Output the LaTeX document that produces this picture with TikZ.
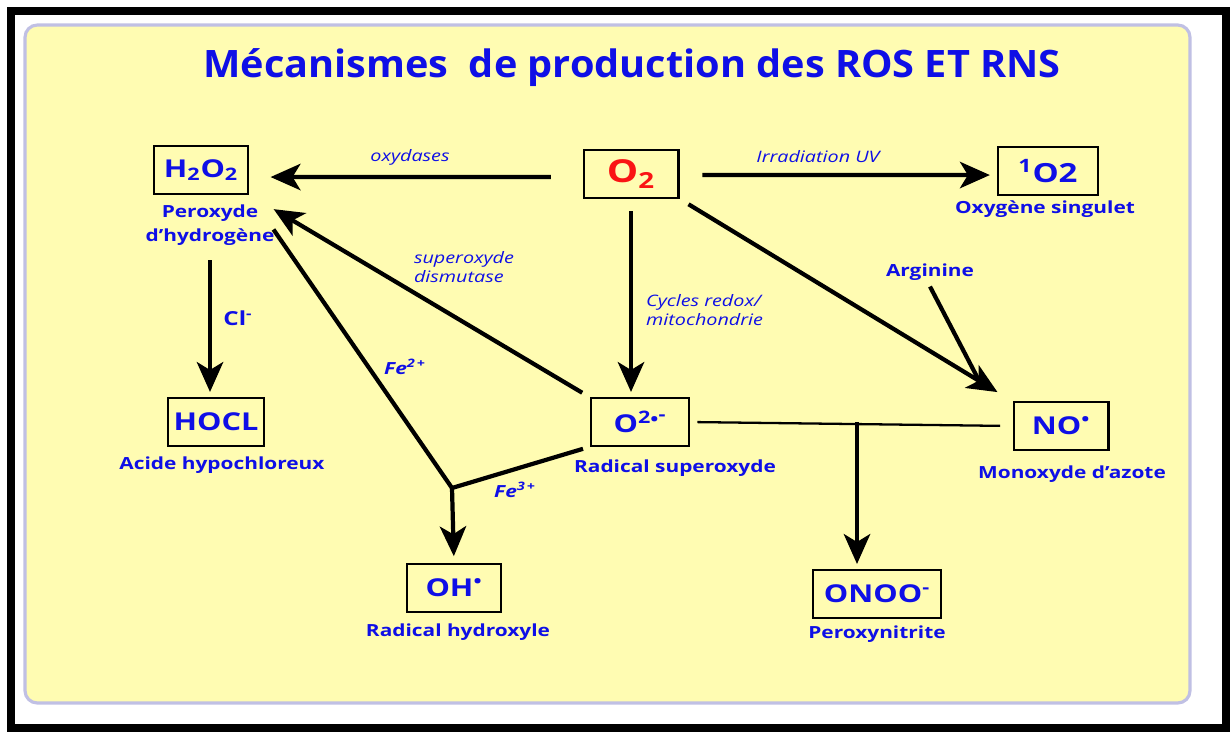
\documentclass[tikz,border=0pt]{standalone}
\usepackage{fontspec}
\setmainfont{Open Sans}[FakeStretch=1.25]
\newfontfamily\titlefont{Open Sans}[FakeStretch=1.05]
\usetikzlibrary{arrows.meta,calc}

\definecolor{rosblue}{RGB}{15,15,230}
\definecolor{rosred}{RGB}{250,20,20}
\definecolor{panel}{RGB}{255,252,178}
\definecolor{panelline}{RGB}{192,192,228}

\tikzset{
  espece/.style={draw=black, line width=1.2pt, fill=panel, minimum width=54pt,
    minimum height=27pt, inner sep=3pt, text=rosblue,
    font=\bfseries\fontsize{14}{16}\selectfont},
  nom/.style={text=rosblue, font=\bfseries\fontsize{9.5}{13.6}\selectfont, align=center},
  enzyme/.style={text=rosblue, font=\itshape\fontsize{9}{11}\selectfont, align=left},
  fer/.style={text=rosblue, font=\bfseries\itshape\fontsize{9.5}{11}\selectfont},
  fleche/.style={line width=2.4pt, -{Stealth[length=17pt,width=15pt,inset=4.5pt]}},
  trait/.style={line width=2.4pt}
}

\begin{document}
\begin{tikzpicture}[x=0.02cm, y=-0.02cm]
  \useasboundingbox (0,0) rectangle (1230,731);
  % cadre
  \draw[line width=4.5pt] (11,11) rectangle (1226,728);
  \draw[panelline, line width=1.8pt, fill=panel, rounded corners=7pt] (25,25) rectangle (1190,703);

  \node[text=rosblue, font=\titlefont\bfseries\fontsize{21.5}{24}\selectfont] (titre) at (632,68)
    {Mécanismes\ \ de production des ROS ET RNS};

  % especes
  \node[espece] (h2o2) at (201,170) {H\textsubscript{2}O\textsubscript{2}};
  \node[espece, text=rosred, font=\bfseries\fontsize{18}{20}\selectfont] (o2) at (631,174) {O\textsubscript{2}};
  \node[espece, minimum width=57pt, font=\bfseries\fontsize{15}{18}\selectfont] (singulet) at (1048,171) {\textsuperscript{1}O2};
  \node[espece] (hocl) at (216,422) {HOCL};
  \node[espece, minimum width=56pt] (sup) at (640,422) {O\textsuperscript{2\raisebox{-.2ex}{•}\raisebox{.3ex}{-}}};
  \node[espece] (no) at (1061,426) {NO\textsuperscript{•}};
  \node[espece] (oh) at (454,588) {OH\textsuperscript{•}};
  \node[espece, inner xsep=6pt] (onoo) at (877,594) {ONOO\textsuperscript{-}};

  % noms
  \node[nom] (h2o2nom) at (210,225) {Peroxyde\\d’hydrogène};
  \node[nom] (singuletnom) at (1045,209) {Oxygène singulet};
  \node[nom] (hoclnom) at (222,465) {Acide hypochloreux};
  \node[nom] (supnom) at (675,468) {Radical superoxyde};
  \node[nom] (nonom) at (1072,474) {Monoxyde d’azote};
  \node[nom] (ohnom) at (458,632) {Radical hydroxyle};
  \node[nom] (onoonom) at (877,634) {Peroxynitrite};
  \node[nom] (arginine) at (930,272) {Arginine};
  \node[nom, font=\bfseries\fontsize{11}{13}\selectfont] (cl) at (238,318) {Cl\textsuperscript{-}};

  % enzymes et conditions
  \node[enzyme] (oxydases) at (410,157) {oxydases};
  \node[enzyme] (uv) at (818,157) {Irradiation UV};
  \node[enzyme] (sod) at (464,267) {superoxyde\\dismutase};
  \node[enzyme, anchor=west, font=\itshape\fontsize{9}{11.3}\selectfont] (redox) at (640,310) {Cycles redox/\\mitochondrie};
  \node[fer] (fe2) at (405,367) {Fe\textsuperscript{2\,+}};
  \node[fer] (fe3) at (515,490) {Fe\textsuperscript{3\,+}};

  \coordinate (fe) at (452,488);
  \coordinate (jonction) at (857,422);

  % fleches
  \draw[fleche, shorten <=18pt, shorten >=12pt] ([yshift=-1.7pt]o2.west) -- ([yshift=-4pt]h2o2.east);
  \draw[fleche, shorten <=13pt, shorten >=4pt] ([yshift=-0.6pt]o2.east) -- ([yshift=-2.3pt]singulet.west);
  \draw[fleche, shorten <=7pt, shorten >=3pt] (o2.south) -- (o2.south |- sup.north);
  \draw[fleche, shorten <=6pt, shorten >=10pt] (o2.south east) -- (no.north west);
  \draw[trait] (arginine.south) -- ($(o2.south east)!0.9!(no.north west)$);
  \draw[fleche, shorten <=5pt, shorten >=16pt] (sup.north west) -- (h2o2.south east);
  \draw[trait, shorten <=24pt] (h2o2.south east) -- (fe);
  \draw[trait, shorten <=4pt] (sup.south west) -- (fe);
  \draw[fleche, shorten >=4pt] (fe) -- (oh.north);
  \draw[fleche, shorten <=5pt, shorten >=3pt] (h2o2nom.south) -- (h2o2nom.south |- hocl.north);
  \draw[line width=1.3pt, shorten <=4pt, shorten >=7pt] (sup.east) -- (no.west);
  \draw[fleche, shorten >=3pt] (jonction) -- (jonction |- onoo.north);
\end{tikzpicture}
\end{document}
